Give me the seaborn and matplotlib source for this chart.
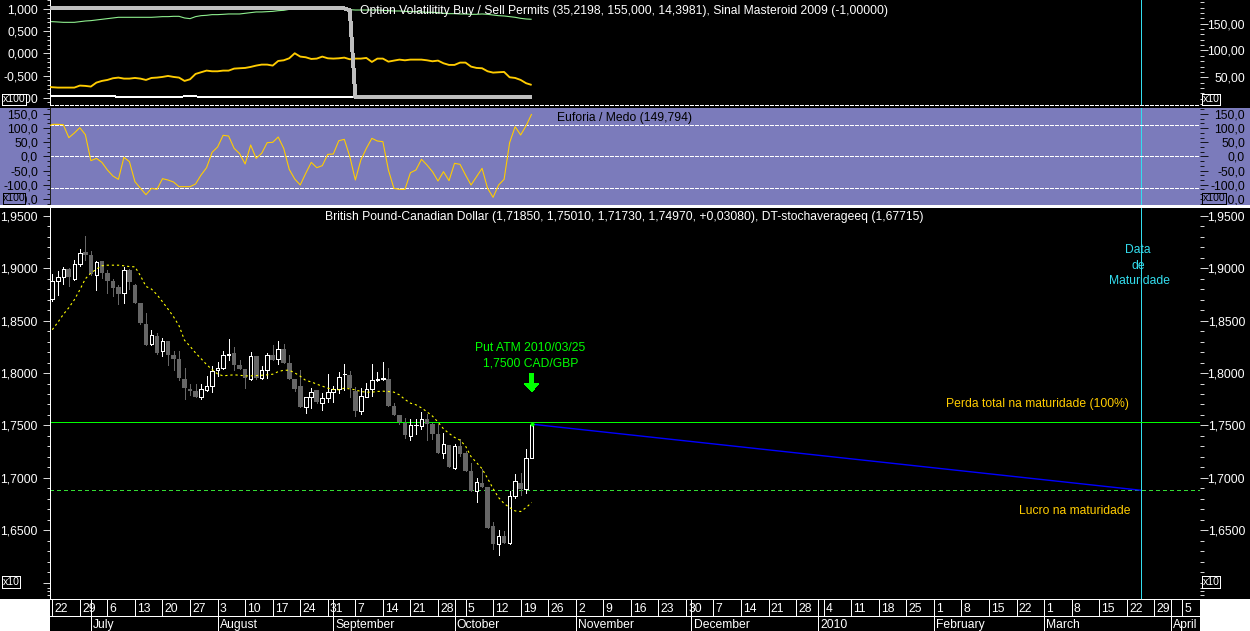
import numpy as np
import matplotlib
matplotlib.use("Agg")
import matplotlib.pyplot as plt
from matplotlib.patches import Rectangle
from matplotlib.ticker import MultipleLocator, FixedLocator, FuncFormatter
import seaborn as sns

# ---------- data ----------
body_top = [1.8875,1.8916,1.8992,1.8995,1.9040,1.9151,1.9157,1.9129,1.9059,1.9071,1.8957,1.8875,1.8824,1.8986,1.8986,1.8843,1.8671,1.8471,1.8363,1.8357,1.8310,1.8310,1.8176,1.8138,1.7948,1.7852,1.7833,1.7849,1.7878,1.8021,1.8049,1.8173,1.8186,1.8195,1.8081,1.8043,1.8163,1.8167,1.8030,1.8173,1.8176,1.8230,1.8233,1.8100,1.7948,1.7881,
            1.7770,1.7821,1.7843,1.7763,1.7821,1.7849,1.7964,1.7995,1.7983,1.7833,1.7783,1.7849,1.7935,1.7941,1.7951,1.7945,1.7681,1.7595,1.7519,1.7503,1.7506,1.7564,1.7564,1.7510,1.7414,1.7325,1.7310,1.7306,1.7300,1.7233,1.7062,1.6963,1.6948,1.6910,1.6538,1.6440,1.6443,1.6830,1.6973,1.6948,1.7192,1.7506]
body_bot = [1.8706,1.8875,1.8916,1.8913,1.8894,1.9037,1.9129,1.8948,1.8941,1.8960,1.8875,1.8814,1.8757,1.8760,1.8865,1.8671,1.8475,1.8271,1.8275,1.8195,1.8208,1.8176,1.8138,1.7951,1.7856,1.7833,1.7770,1.7770,1.7836,1.7878,1.8027,1.8046,1.8173,1.8081,1.8043,1.7954,1.7941,1.7954,1.7957,1.8030,1.8122,1.8132,1.8100,1.7948,1.7852,1.7675,
            1.7675,1.7770,1.7722,1.7716,1.7763,1.7821,1.7849,1.7992,1.7859,1.7637,1.7637,1.7770,1.7849,1.7935,1.7945,1.7681,1.7595,1.7535,1.7405,1.7402,1.7503,1.7494,1.7510,1.7414,1.7237,1.7237,1.7100,1.7094,1.7224,1.7065,1.6875,1.6875,1.6910,1.6522,1.6367,1.6364,1.6379,1.6373,1.6830,1.6894,1.6894,1.7192]
wick_high = [1.8948,1.8970,1.9008,1.9001,1.9081,1.9186,1.9310,1.9167,1.9071,1.9071,1.8986,1.8897,1.8843,1.9011,1.8995,1.8852,1.8671,1.8573,1.8414,1.8383,1.8332,1.8310,1.8208,1.8208,1.8049,1.7891,1.7891,1.7900,1.7970,1.8071,1.8106,1.8214,1.8329,1.8249,1.8129,1.8043,1.8205,1.8167,1.8065,1.8192,1.8271,1.8306,1.8281,1.8176,1.7948,1.8033,
             1.7770,1.7859,1.7843,1.7811,1.7992,1.7881,1.8011,1.8087,1.8024,1.7865,1.7859,1.7906,1.8087,1.8011,1.8103,1.8049,1.7716,1.7595,1.7573,1.7557,1.7557,1.7630,1.7605,1.7525,1.7510,1.7424,1.7310,1.7319,1.7367,1.7256,1.7138,1.6995,1.7081,1.6910,1.6579,1.6500,1.6494,1.6875,1.7033,1.7049,1.7271,1.7516]
wick_low = [1.8684,1.8741,1.8852,1.8827,1.8884,1.9024,1.9081,1.8938,1.8795,1.8906,1.8763,1.8732,1.8662,1.8671,1.8802,1.8668,1.8471,1.8265,1.8271,1.8186,1.8160,1.8081,1.8033,1.7932,1.7757,1.7795,1.7770,1.7757,1.7830,1.7824,1.7970,1.8040,1.8129,1.8033,1.8043,1.7862,1.7938,1.7945,1.7941,1.7951,1.8122,1.8084,1.8097,1.7948,1.7833,1.7675,
            1.7621,1.7668,1.7716,1.7646,1.7722,1.7725,1.7811,1.7843,1.7770,1.7589,1.7605,1.7770,1.7779,1.7922,1.7938,1.7681,1.7595,1.7510,1.7383,1.7357,1.7414,1.7468,1.7360,1.7367,1.7237,1.7186,1.7100,1.7084,1.7205,1.7065,1.6875,1.6770,1.6910,1.6522,1.6325,1.6265,1.6379,1.6367,1.6805,1.6833,1.6859,1.7192]
white_bars = [0,1,2,4,5,8,13,18,20,27,28,29,30,31,32,36,38,39,41,46,47,49,50,51,52,53,56,57,58,59,60,65,66,67,71,73,77,81,83,84,86,87]
stoch_avg = [1.8414,1.8484,1.8560,1.8624,1.8700,1.8795,1.8900,1.8954,1.8992,1.9024,1.9030,1.9030,1.9030,1.9024,1.9017,1.9014,1.8929,1.8827,1.8802,1.8748,1.8681,1.8611,1.8538,1.8452,1.8313,1.8256,1.8192,1.8138,1.8081,1.8033,1.7992,1.7973,1.7979,1.7983,1.7979,1.7973,1.7973,1.7976,1.7979,1.7983,1.7989,1.8014,1.8027,1.8027,1.8002,1.7970,
             1.7929,1.7916,1.7894,1.7875,1.7856,1.7843,1.7840,1.7856,1.7849,1.7840,1.7824,1.7818,1.7818,1.7824,1.7827,1.7824,1.7818,1.7792,1.7748,1.7713,1.7697,1.7668,1.7630,1.7589,1.7532,1.7468,1.7424,1.7386,1.7360,1.7303,1.7202,1.7145,1.7087,1.6995,1.6897,1.6811,1.6754,1.6716,1.6684,1.6678,1.6716,1.6764]

osc_yellow = [-.745,-.760,-.768,-.768,-.768,-.768,-.723,-.730,-.745,-.656,-.618,-.596,-.558,-.543,-.566,-.566,-.551,-.566,-.596,-.551,-.543,-.528,-.506,-.528,-.543,-.618,-.581,-.461,-.423,-.386,-.401,-.401,-.386,-.386,-.341,-.333,-.326,-.303,-.273,-.251,-.251,-.273,-.169,-.154,-.109,.004,-.071,-.086,-.124,-.116,-.071,-.109,-.116,-.109,-.094,-.131,-.116,-.116,-.101,-.191,-.116,-.116,-.184,-.161,-.139,-.154,-.139,-.139,-.139,-.154,-.176,-.161,-.221,-.258,-.258,-.206,-.206,-.296,-.326,-.333,-.401,-.431,-.423,-.416,-.536,-.551,-.596,-.670,-.708]
osc_green = [.715,.715,.708,.700,.700,.700,.715,.730,.738,.753,.768,.783,.798,.813,.813,.813,.813,.813,.813,.813,.820,.828,.828,.835,.835,.798,.783,.828,.850,.858,.873,.873,.880,.888,.888,.888,.903,.918,.933,.933,.940,.947,.962,.970,.992,.999,1.007,1.007,1.007,1.007,1.007,1.007,1.007,1.007,.999,.985,.977,.977,.977,.977,.977,.970,.962,.955,.955,.947,.940,.940,.933,.925,.925,.918,.903,.895,.895,.888,.888,.880,.880,.888,.880,.865,.850,.843,.828,.813,.790,.775,.768]
osc_gray = [1.015]*55 + [.97] + [-.985]*33
osc_white = [-.955]*13 + [-.985]*12 + [-.963]*3 + [-.985]*57 + [-.948]*4
euforia = [102.7,113.3,113.3,112.2,66.2,82.7,101.6,76.8,-15.0,-6.8,-21,-48,-69.2,-81,-3,-18.6,-89.3,-112.8,-135.2,-112.8,-116.4,-78.7,-83.4,-90.4,-106.9,-106.9,-106.9,-97.5,-65.7,-39.8,14.4,33.2,74.5,72.1,28.5,9.7,-26.8,40.3,-6.8,10.9,48.6,49.7,68.6,28.5,-45.7,-79.8,-101,-59.8,-21,-39.8,-32.7,7.3,8.5,55.6,60.3,-0.9,-83.4,-12.7,28.5,63.9,54.4,52.1,-48,-112.8,-116.4,-116.4,-57.5,-48,-10.3,-30.4,-53.9,-86.9,-53.9,-85.7,-24.5,-28,-65.7,-101,-71.6,-42.1,-112.8,-144.6,-101,-81,48.6,105.1,75.7,108.6,149.8]

week_labels = ["22","29","6","13","20","27","3","10","17","24","31","7","14","21","28","5","12","19","26","2","9","16","23","30","7","14","21","28","4","11","18","25","1","8","15","22","1","8","15","22","29","5"]
month_labels = ["July","August","September","October","November","December","2010","February","March","April"]
month_bars = [7,30,51,73,95,116,139,160,180,203]
strike_level = 1.7535
breakeven_level = 1.6881
maturity_bar = 197.6
marker_price = 1.7512
euforia_bands = [110, 0, -110]
title_top = "Option Volatilitity Buy / Sell Permits (35,2198, 155,000, 14,3981), Sinal Masteroid 2009 (-1,00000)"
title_mid = "Euforia / Medo (149,794)"
title_main = "British Pound-Canadian Dollar (1,71850, 1,75010, 1,71730, 1,74970, +0,03080), DT-stochaverageeq (1,67715)"

# ---------- style ----------
sns.set_theme(style="dark")
plt.rcParams.update({
    "font.family": ["Liberation Sans", "DejaVu Sans"],
    "figure.facecolor": "black", "axes.facecolor": "black",
    "text.color": "white", "axes.linewidth": 0.6,
    "xtick.bottom": False, "ytick.left": True,
    "lines.antialiased": False, "patch.antialiased": False,
    "lines.solid_capstyle": "butt",
})
W, H = 1250, 631
PX = 0.6
THIN = 0.8
PURPLE = "#7B7BBB"
AMBER = "#FFCC00"
LIME = "#00FF00"
CYAN = "#33DDEE"
FS = 8.7
TICK_FS = 8.7

fig = plt.figure(figsize=(W/100, H/100), dpi=100, facecolor="black")

def px_axes(x0, x1, y0, y1, **kw):
    return fig.add_axes([x0/W, 1-y1/H, (x1-x0)/W, (y1-y0)/H], **kw)

def ftext(px, py, s, **kw):
    kw.setdefault("ha", "center"); kw.setdefault("va", "center")
    kw.setdefault("fontsize", FS); kw.setdefault("zorder", 6)
    return fig.text(px/W, 1-(py+1)/H, s, **kw)

def badge(x0, x1, y0, y1, s, edge, face):
    fig.add_artist(Rectangle((x0/W, 1-y1/H), (x1-x0)/W, (y1-y0)/H, transform=fig.transFigure,
                             facecolor=face, edgecolor=edge, lw=PX, zorder=5))
    ftext((x0+x1)/2, (y0+y1)/2-1, s, color=edge, fontsize=7.6)

fig.add_artist(Rectangle((0, 1-205/H), 1, 97/H, transform=fig.transFigure, facecolor=PURPLE, edgecolor="none", zorder=-1))
fig.add_artist(Rectangle((0, 0), 49.5/W, (H-599)/H, transform=fig.transFigure, facecolor="white", edgecolor="none", zorder=-1))
fig.add_artist(Rectangle((1200/W, 0), 50/W, (H-599)/H, transform=fig.transFigure, facecolor="white", edgecolor="none", zorder=-1))

XLIM = (-0.508, 208.3)
ax_top = px_axes(49.5, 1200, 0, 105)
ax_mid = px_axes(49.5, 1200, 108, 205)
ax_main = px_axes(49.5, 1200, 206, 599)
ax_strip = px_axes(49.5, 1200, 599, 631)

def comma(decimals, hide_below=None):
    def f(v, _):
        if hide_below is not None and v < hide_below:
            return ""
        s = f"{v:.{decimals}f}"
        if float(s) == 0:
            s = s.lstrip("-")
        return s.replace(".", ",")
    return FuncFormatter(f)

def dress(ax, ylim, major, minor, dec, color, spine, hide_below=None):
    ax.set_xlim(*XLIM); ax.set_ylim(*ylim)
    ax.patch.set_alpha(0 if color == "black" else 1)
    ax.set_xticks([])
    for s in ax.spines.values():
        s.set_visible(False)
    ax.spines["left"].set_visible(True); ax.spines["left"].set_color(spine)
    ax.spines["left"].set_linewidth(PX)
    ax.yaxis.set_major_locator(MultipleLocator(major))
    ax.yaxis.set_minor_locator(MultipleLocator(minor))
    ax.yaxis.set_major_formatter(comma(dec, hide_below))
    ax.tick_params(axis="y", which="major", length=4.9, width=PX, color=color, labelcolor=color, labelsize=TICK_FS, pad=3.4, left=True)
    ax.tick_params(axis="y", which="minor", length=1.9, width=PX, color=color, left=True)
    ax.set_xlabel(""); ax.set_ylabel("")

def right_axis(ax, ylim, major, minor, dec, color, hide_below=None):
    r = ax.twinx()
    r.set_xlim(*XLIM); r.set_ylim(*ylim); r.patch.set_alpha(0)
    for s in r.spines.values():
        s.set_visible(False)
    r.yaxis.set_major_locator(MultipleLocator(major))
    r.yaxis.set_minor_locator(MultipleLocator(minor))
    r.yaxis.set_major_formatter(comma(dec, hide_below))
    r.tick_params(axis="y", which="major", length=5.8, width=PX, color=color, labelcolor=color, labelsize=TICK_FS, pad=26.6, right=True)
    r.tick_params(axis="y", which="minor", length=2.9, width=PX, color=color, right=True)
    for t in r.get_yticklabels():
        t.set_ha("right")
    r.set_ylabel("")
    return r

# ---------- top panel ----------
x_ext = np.arange(-1, 88)
ax_top.axhline(-1.16, color="white", lw=PX, ls=(0, (4.2, 2.4)), clip_on=False)
sns.lineplot(x=x_ext, y=osc_white, ax=ax_top, color="white", lw=PX, estimator=None, legend=False, zorder=2)
sns.lineplot(x=x_ext, y=osc_green, ax=ax_top, color="#8FEF8F", lw=THIN, estimator=None, legend=False, zorder=2, antialiased=True)
sns.lineplot(x=x_ext, y=osc_yellow, ax=ax_top, color=AMBER, lw=1.35, estimator=None, legend=False, zorder=3, antialiased=True)
sns.lineplot(x=x_ext, y=osc_gray, ax=ax_top, color="#BEBEBE", lw=2.1, estimator=None, legend=False, zorder=4)
dress(ax_top, (-1.1596, 1.2022), 0.5, 0.1, 3, "white", "white")
right_axis(ax_top, (-1.7, 194.2), 50, 10, 2, "white", hide_below=10)
ftext(624.5, 10, title_top, color="white")
badge(2, 26, 94, 105, "x100", "white", "black")
badge(1202, 1220, 94, 105, "x10", "white", "black")

# ---------- middle panel ----------
ax_mid.patch.set_alpha(0)
for b in euforia_bands:
    ax_mid.axhline(b, color="white", lw=PX, ls=(0, (4.2, 2.4)))
sns.lineplot(x=x_ext, y=euforia, ax=ax_mid, color=AMBER, lw=THIN, estimator=None, legend=False, zorder=3, antialiased=True)
dress(ax_mid, (-171.7, 171.1), 50, 50/3, 1, "black", "#222222")
ax_mid.patch.set_alpha(0)
right_axis(ax_mid, (-171.7, 171.1), 50, 50/3, 1, "black")
ftext(624.5, 117, title_mid, color="black")
badge(3, 25, 193, 204, "x100", "black", PURPLE)
badge(1202, 1226, 193, 204, "x100", "black", PURPLE)

# ---------- main panel ----------
bars = np.arange(len(body_top))
top = np.array(body_top); bot = np.array(body_bot)
hi = np.array(wick_high); lo = np.array(wick_low)
is_up = np.isin(bars, white_bars)
ax_main.vlines(bars[~is_up], lo[~is_up], hi[~is_up], color="#666666", lw=PX, zorder=2, antialiased=False)
ax_main.bar(bars[~is_up], (top-bot)[~is_up], bottom=bot[~is_up], width=0.85, color="#666666", lw=0, zorder=2)
ax_main.vlines(bars[is_up], lo[is_up], hi[is_up], color="white", lw=PX, zorder=2.5, antialiased=False)
ax_main.bar(bars[is_up], (top-bot)[is_up], bottom=bot[is_up], width=0.66, facecolor="black", edgecolor="white", lw=PX, zorder=2.6)
sns.lineplot(x=bars, y=stoch_avg, ax=ax_main, color="#FFFF00", lw=THIN, ls=(0, (2, 2.6)), estimator=None, legend=False, zorder=3, antialiased=True)
ax_main.axhline(strike_level, color=LIME, lw=PX, zorder=1.5)
ax_main.axhline(breakeven_level, color="#33DD33", lw=PX, ls=(0, (4.8, 3.6)), zorder=1.5)
ax_main.plot([bars[-1], maturity_bar], [marker_price, breakeven_level], color="#0000FF", lw=1.0, zorder=1.8, antialiased=True)
ax_main.plot([bars[-1]], [marker_price], marker="D", ms=2.6, color=LIME, mew=0, zorder=4)
ax_main.annotate("", xy=(bars[-1], 1.7822), xytext=(bars[-1], 1.8000), zorder=4,
                 arrowprops=dict(width=3.2, headwidth=10.5, headlength=6, color=LIME, shrink=0, lw=0))
dress(ax_main, (1.5843, 1.9595), 0.05, 0.01, 4, "white", "white", hide_below=1.62)
main_right = right_axis(ax_main, (1.5843, 1.9595), 0.05, 0.01, 4, "white", hide_below=1.62)
for a in (ax_main, main_right):
    a.yaxis.set_minor_locator(FixedLocator(list(np.arange(1.60, 1.96, 0.01)) + [1.5945, 1.5915, 1.5885]))
ftext(624.5, 216, title_main, color="white")
badge(2, 20, 576, 588, "x10", "white", "black")
badge(1202, 1220, 576, 588, "x10", "white", "black")
ftext(530, 347, "Put ATM 2010/03/25", color=LIME)
ftext(531, 362, "1,7500 CAD/GBP", color=LIME)
ftext(1138, 249, "Data", color=CYAN)
ftext(1138, 265, "de", color=CYAN)
ftext(1140, 280, "Maturidade", color=CYAN)
ftext(1037, 403, "Perda total na maturidade (100%)", color=AMBER)
ftext(1075, 510, "Lucro na maturidade", color=AMBER)

# maturity marker through the three panels
ax_top.axvline(maturity_bar, color=CYAN, lw=PX, zorder=1)
ax_mid.axvline(maturity_bar, color=CYAN, lw=PX, zorder=1)
ax_main.axvline(maturity_bar, color=CYAN, lw=PX, zorder=1)

# ---------- date strip ----------
ax_strip.set_xlim(*XLIM); ax_strip.set_ylim(0, 1)
ax_strip.set_xticks([]); ax_strip.set_yticks([])
for s in ax_strip.spines.values():
    s.set_visible(False)
row = 15/32
ax_strip.axhline(1-0.4/32, color="white", lw=PX)
ax_strip.axhline(row, color="white", lw=PX)
for i, w in enumerate(week_labels):
    idx = 5*i
    ax_strip.vlines(idx, row, 1, color="white", lw=PX, antialiased=False)
    ax_strip.annotate(w, xy=(idx, (1+row)/2), xytext=(1.6, -1), textcoords="offset points",
                      ha="left", va="center", color="white", fontsize=TICK_FS)
for m, idx in zip(month_labels, month_bars):
    ax_strip.vlines(idx, 0, 1, color="white", lw=PX, antialiased=False)
    ax_strip.annotate(m, xy=(idx, row/2), xytext=(1.6, -1), textcoords="offset points",
                      ha="left", va="center", color="white", fontsize=FS)

fig.add_artist(plt.Line2D([0, 1], [1-205.5/H]*2, color="white", lw=1.0, zorder=4))
fig.savefig("out.png", dpi=100, facecolor="black")
